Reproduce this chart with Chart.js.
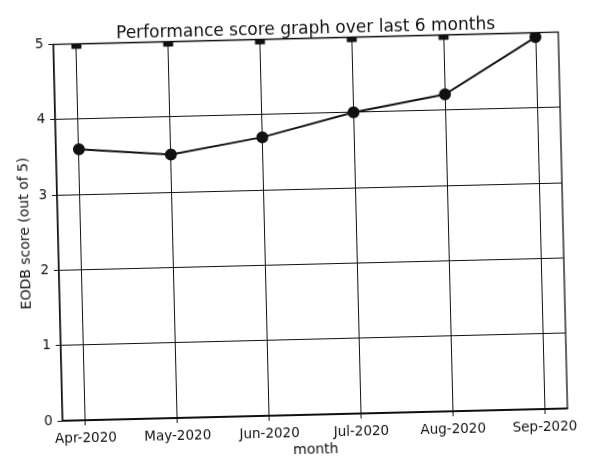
<!DOCTYPE html>
<html>
<head>
<meta charset="utf-8">
<script src="https://cdn.jsdelivr.net/npm/chart.js@4/dist/chart.umd.min.js"></script>
<style>
  html, body { margin: 0; padding: 0; background: #fff; overflow: hidden; }
  #wrap { width: 594px; height: 460px; transform: rotate(-1.4deg); transform-origin: 50% 50%; }
  canvas { display: block; }
</style>
</head>
<body>
<div id="wrap"><canvas id="c" width="594" height="460"></canvas></div>
<script>
// ---- data ----
const months = ["Apr-2020", "May-2020", "Jun-2020", "Jul-2020", "Aug-2020", "Sep-2020"];
const scores = [3.60, 3.50, 3.70, 4.00, 4.21, 4.94];
const maxScore = [5, 5, 5, 5, 5, 5];
const yTicks = [0, 1, 2, 3, 4, 5];

const titleText = "Performance score graph over last 6 months";
const xTitle = "month";
const yTitle = "EODB score (out of 5)";

const FONT = "'DejaVu Sans', sans-serif";
const INK = "#111";

const frame = {
  id: 'frame',
  afterDatasetsDraw(chart) {
    const a = chart.chartArea, ctx = chart.ctx;
    ctx.save();
    ctx.strokeStyle = INK;
    ctx.lineWidth = 1.3;
    ctx.strokeRect(a.left, a.top, a.right - a.left, a.bottom - a.top);
    ctx.restore();
  }
};

new Chart(document.getElementById('c'), {
  type: 'line',
  data: {
    datasets: [
      {
        label: 'score',
        data: months.map((m, i) => ({ x: i, y: scores[i] })),
        borderColor: INK,
        backgroundColor: INK,
        borderWidth: 2,
        pointRadius: 5,
        pointHoverRadius: 5,
        pointStyle: 'circle',
        tension: 0,
        clip: 0,
        order: 2
      },
      {
        label: 'max',
        data: months.map((m, i) => ({ x: i, y: maxScore[i] })),
        borderColor: INK,
        backgroundColor: INK,
        borderWidth: 1.5,
        pointRadius: 6,
        pointHoverRadius: 6,
        pointStyle: 'rect',
        tension: 0,
        clip: 0,
        order: 1
      }
    ]
  },
  options: {
    responsive: false,
    animation: false,
    events: [],
    layout: { padding: { left: 0, right: 31, top: 0, bottom: 0 } },
    plugins: {
      legend: { display: false },
      tooltip: { enabled: false },
      title: {
        display: true,
        fullSize: false,
        text: titleText,
        color: INK,
        font: { family: FONT, size: 17, weight: 'normal', lineHeight: 1.0 },
        padding: { top: 21.5, bottom: 0 }
      }
    },
    scales: {
      x: {
        type: 'linear',
        min: -0.25,
        max: 5.25,
        afterBuildTicks(scale) { scale.ticks = months.map((m, i) => ({ value: i })); },
        afterFit(scale) { scale.height = 45; },
        ticks: {
          color: INK,
          font: { family: FONT, size: 13.5 },
          padding: 5,
          maxRotation: 0,
          autoSkip: false,
          callback: (v) => months[v] ?? ''
        },
        grid: { color: INK, lineWidth: 1, tickLength: 5, drawTicks: true },
        border: { display: true, color: INK, width: 1.3 },
        title: {
          display: true,
          text: xTitle,
          color: INK,
          font: { family: FONT, size: 14, lineHeight: 1.2 },
          padding: { top: 0, bottom: 1.6 }
        }
      },
      y: {
        type: 'linear',
        min: 0,
        max: 5,
        afterBuildTicks(scale) { scale.ticks = yTicks.map(v => ({ value: v })); },
        afterFit(scale) { scale.width = 58; },
        ticks: {
          color: INK,
          font: { family: FONT, size: 13.5 },
          padding: 5
        },
        grid: { color: INK, lineWidth: 1, tickLength: 5, drawTicks: true },
        border: { display: true, color: INK, width: 1.3 },
        title: {
          display: true,
          text: yTitle,
          color: INK,
          font: { family: FONT, size: 14, lineHeight: 1.2 },
          padding: { top: 16.6, bottom: 0 }
        }
      }
    }
  },
  plugins: [frame]
});
</script>
</body>
</html>
